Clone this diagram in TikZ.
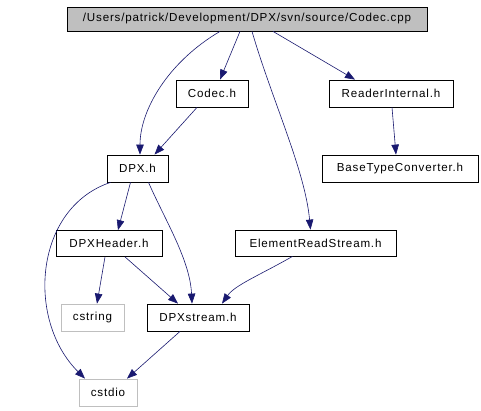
\documentclass[tikz,border=0pt]{standalone}
\usepackage{fontspec}
\setmainfont{Liberation Sans}[LetterSpace=7]
\usetikzlibrary{arrows.meta}
\definecolor{edgeblue}{HTML}{191970}
\definecolor{topfill}{HTML}{BFBFBF}
\definecolor{grayborder}{HTML}{BFBFBF}
\begin{document}
\begin{tikzpicture}[x=1pt,y=-1pt,
  box/.style={draw=black,line width=0.8pt,rectangle,inner sep=0pt,font=\fontsize{11.6}{13}\selectfont},
  extbox/.style={box,draw=grayborder},
  edge/.style={draw=edgeblue,line width=0.6pt,-{Triangle[length=10pt,width=7.5pt]},fill=none}
]
\useasboundingbox (0,0) rectangle (481,411);
\fill[white] (0,0) rectangle (481,411);
\node[box,fill=topfill,minimum width=360pt,minimum height=24pt] (top) at (247,19) {/Users/patrick/Development/DPX/svn/source/Codec.cpp};
\node[box,minimum width=72pt,minimum height=27pt] (codec) at (212,93.5) {Codec.h};
\node[box,minimum width=61pt,minimum height=27pt] (dpx) at (137.5,168.5) {DPX.h};
\node[box,minimum width=124pt,minimum height=27pt] (ri) at (391,93.5) {ReaderInternal.h};
\node[box,minimum width=156pt,minimum height=27pt] (btc) at (400,168.5) {BaseTypeConverter.h};
\node[box,minimum width=106pt,minimum height=26pt] (dpxh) at (109,243.5) {DPXHeader.h};
\node[extbox,minimum width=63pt,minimum height=27pt] (cstring) at (92.5,317.5) {cstring};
\node[box,minimum width=102pt,minimum height=27pt] (dstream) at (198,317.5) {DPXstream.h};
\node[box,minimum width=161pt,minimum height=26pt] (ers) at (315.5,243) {ElementReadStream.h};
\node[extbox,minimum width=58pt,minimum height=27pt] (cstdio) at (108,392.5) {cstdio};

\draw[edge] ([xshift=-27pt]top.south) .. controls (168,62) and (140,110) .. ([xshift=2.5pt]dpx.north);
\draw[edge] ([xshift=-7pt]top.south) -- ([xshift=8pt]codec.north);
\draw[edge] ([xshift=5pt]top.south) .. controls (272,100) and (305,170) .. ([xshift=-5pt]ers.north);
\draw[edge] ([xshift=26pt]top.south) -- ([xshift=-36pt]ri.north);
\draw[edge] ([xshift=-15pt]codec.south) -- ([xshift=17pt]dpx.north);
\draw[edge] ([xshift=1pt]ri.south) -- ([xshift=-4pt]btc.north);
\draw[edge] ([xshift=-27pt]dpx.south) .. controls (34,208) and (26,320) .. ([xshift=-23pt]cstdio.north);
\draw[edge] ([xshift=-7pt]dpx.south) -- ([xshift=9pt]dpxh.north);
\draw[edge] ([xshift=11pt]dpx.south) .. controls (165,220) and (190,260) .. ([xshift=-6pt]dstream.north);
\draw[edge] ([xshift=-4pt]dpxh.south) -- ([xshift=4.5pt]cstring.north);
\draw[edge] ([xshift=16pt]dpxh.south) -- ([xshift=-20pt]dstream.north);
\draw[edge] ([xshift=-23pt]ers.south) .. controls (260,275) and (235,285) .. ([xshift=24pt]dstream.north);
\draw[edge] ([xshift=-18pt]dstream.south) -- ([xshift=19pt]cstdio.north);
\end{tikzpicture}
\end{document}
